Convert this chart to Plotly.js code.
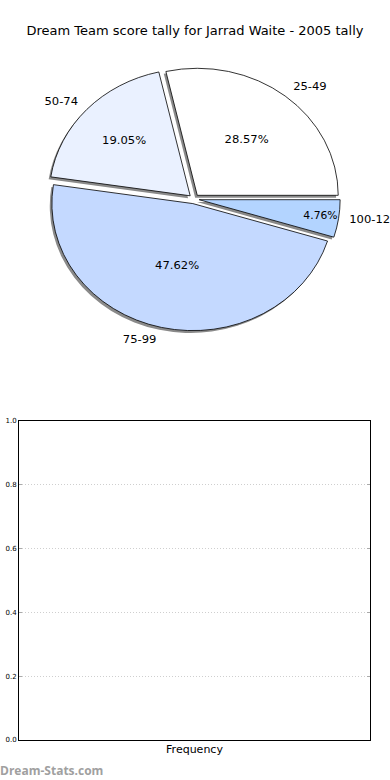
<!DOCTYPE html>
<html><head><meta charset="utf-8">
<script src="https://cdn.plot.ly/plotly-3.0.1.min.js"></script>
<style>
html,body{margin:0;padding:0;background:#fff}
#wrap{position:relative;width:390px;height:780px;overflow:hidden}
#chart{position:absolute;left:0;top:0;width:390px;height:780px}
#pie{position:absolute;left:0;top:0;width:390px;height:400px;pointer-events:none;
     transform-origin:194px 199px;transform:scale(1.052,0.948)}
</style>
</head><body><div id="wrap"><div id="chart"></div><div id="pie"></div></div>
<script>
const categories = ['25-49', '50-74', '75-99', '100-124'];
const games = [6, 4, 10, 1];
const sliceColors = ['#ffffff', '#eaf1ff', '#c4d9ff', '#b3d4ff'];
const explode = [0.037, 0.037, 0.037, 0.037];
const frequencyX = [];
const frequencyY = [];

const FONT = 'DejaVu Sans, sans-serif';
const W = 390, H = 780, PH = 400;
const cx = 194, cy = 199, R = 134;
const pmax = Math.max(...explode);
function dom(ox, oy, rr) {
  const half = rr * (1 + pmax);
  return {
    x: [(cx + ox - half) / W, (cx + ox + half) / W],
    y: [1 - (cy + oy + half) / PH, 1 - (cy + oy - half) / PH]
  };
}
const total = games.reduce((a, b) => a + b, 0);
const startRot = 90 - 360 * games[0] / total;
const common = {
  type: 'pie', values: games, labels: categories, sort: false,
  direction: 'counterclockwise', rotation: startRot, pull: explode,
  showlegend: false, hoverinfo: 'skip'
};
const pieData = [
  Object.assign({}, common, {
    domain: dom(-2, 2.5, R), textinfo: 'none',
    marker: {colors: categories.map(() => '#8a8a8a'), line: {width: 0}}
  }),
  Object.assign({}, common, {
    domain: dom(0, 0, R), texttemplate: '%{percent:.2%}', textposition: 'inside',
    insidetextorientation: 'horizontal',
    textfont: {family: FONT, size: 11, color: '#000'},
    marker: {colors: sliceColors, line: {color: '#000', width: 0.8}}
  }),
  Object.assign({}, common, {
    domain: dom(0, 0, R * 1.05), textinfo: 'label', textposition: 'outside',
    outsidetextfont: {family: FONT, size: 11, color: '#000'},
    marker: {colors: categories.map(() => 'rgba(0,0,0,0)'), line: {width: 0}}
  })
];
const pieLayout = {
  width: W, height: PH, margin: {l: 0, r: 0, t: 0, b: 0},
  paper_bgcolor: 'rgba(0,0,0,0)', plot_bgcolor: 'rgba(0,0,0,0)',
  font: {family: FONT, color: '#000'}, showlegend: false
};

const data = [
  {type: 'scatter', x: frequencyX, y: frequencyY, xaxis: 'x', yaxis: 'y',
   showlegend: false, hoverinfo: 'skip'}
];
const layout = {
  width: W, height: H,
  margin: {l: 0, r: 0, t: 0, b: 0},
  paper_bgcolor: '#fff', plot_bgcolor: '#fff',
  font: {family: FONT, color: '#000'},
  title: {text: 'Dream Team score tally for Jarrad Waite - 2005 tally',
          font: {family: FONT, size: 13, color: '#000'},
          x: 0.5, xanchor: 'center', y: 1 - 30 / H, yanchor: 'middle'},
  xaxis: {domain: [19 / W, 370 / W], range: [0, 1], showticklabels: false,
          ticks: '', showgrid: false, zeroline: false,
          showline: true, linecolor: '#000', linewidth: 1, mirror: true,
          title: {text: 'Frequency', font: {family: FONT, size: 11, color: '#000'}, standoff: 5}},
  yaxis: {domain: [1 - 740 / H, 1 - 421 / H], range: [0, 1], dtick: 0.2, tick0: 0,
          tickformat: '.1f', ticks: 'inside', ticklen: 3, tickcolor: '#aaa',
          tickfont: {family: FONT, size: 7, color: '#000'},
          showgrid: true, gridcolor: '#cfcfcf', griddash: '1px,2px', gridwidth: 1,
          zeroline: false, showline: true, linecolor: '#000', linewidth: 1, mirror: 'allticks'},
  annotations: [{text: '<b>Dream-Stats.com</b>', xref: 'paper', yref: 'paper',
                 x: -2 / W, y: 1 - 770 / H, xanchor: 'left', yanchor: 'middle', showarrow: false,
                 font: {family: 'Open Sans, sans-serif', size: 12, color: '#a0a0a0'}}]
};
Plotly.newPlot('chart', data, layout, {staticPlot: true});
Plotly.newPlot('pie', pieData, pieLayout, {staticPlot: true});
</script></body></html>
